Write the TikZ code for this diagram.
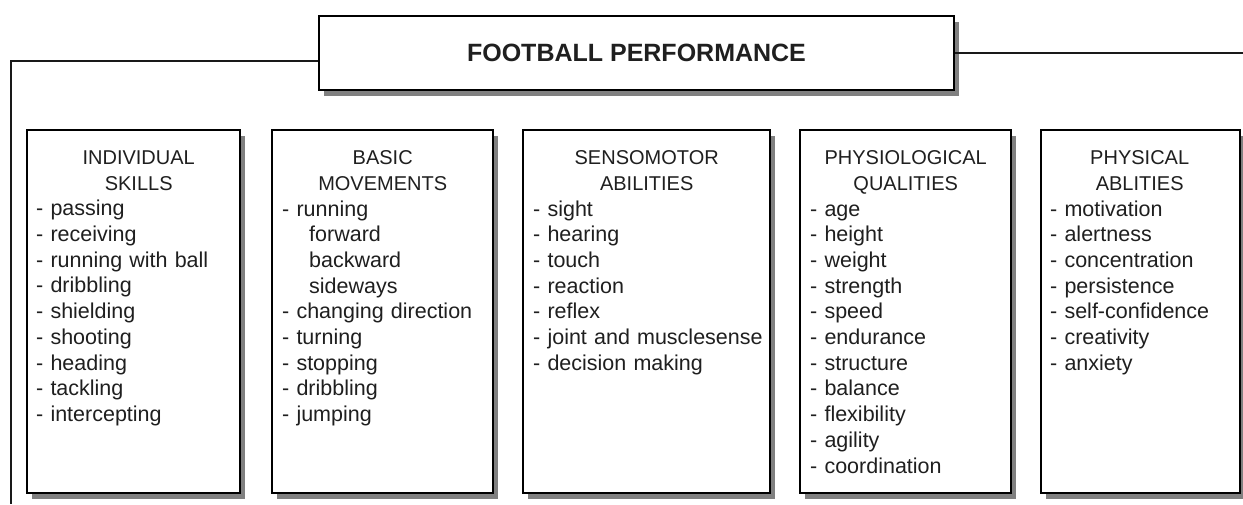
\documentclass[tikz,border=0pt]{standalone}
\usepackage{fontspec}
\setmainfont{Liberation Sans}
\usetikzlibrary{shadows}

\begin{document}
\begin{tikzpicture}[x=1pt, y=-1pt,
  boxshadow/.style={drop shadow={shadow xshift=5pt, shadow yshift=-6pt, fill=black!50, opacity=1}},
  panel/.style={draw=black, line width=2pt, fill=white, boxshadow, inner sep=0pt, anchor=north west},
  titlebox/.style={panel, font=\bfseries\fontsize{25}{29}\selectfont, text=black!88},
  body/.style={anchor=north west, inner sep=0pt, font=\fontsize{21.5}{25.7}\selectfont, text=black!88},
  link/.style={draw=black!90, line width=2pt}
]
\useasboundingbox (0,0) rectangle (1243,504);
\newcommand{\heading}[2]{{\centering\fontsize{20}{25.7}\selectfont #1\\#2\par}}

% top node
\node[titlebox, minimum width=635pt, minimum height=74pt] (top) at (318,15) {FOOTBALL PERFORMANCE};

% free ends of the two branches
\coordinate (lend) at (11,504);
\coordinate (rend) at (1243,52);

\draw[link] ([yshift=-8pt]top.west) -| (lend);
\draw[link] (top.east) -- (top.east -| rend);

% the five category panels
\node[panel, minimum width=213pt, minimum height=363pt] (b1) at (26,129) {};
\node[panel, minimum width=221pt, minimum height=363pt] (b2) at (271,129) {};
\node[panel, minimum width=247pt, minimum height=363pt] (b3) at (522,129) {};
\node[panel, minimum width=211pt, minimum height=363pt] (b4) at (799,129) {};
\node[panel, minimum width=199pt, minimum height=363pt] (b5) at (1040,129) {};

% panel texts
\node[body, text width=193pt] (t1) at ([xshift=10pt, yshift=-21.5pt]b1.north west)
 {\heading{\hspace*{12pt}INDIVIDUAL}{\hspace*{12pt}SKILLS}
  - passing\\
  - receiving\\
  - running with ball\\
  - dribbling\\
  - shielding\\
  - shooting\\
  - heading\\
  - tackling\\
  - intercepting};

\node[body, text width=201pt] (t2) at ([xshift=11pt, yshift=-21.5pt]b2.north west)
 {\heading{BASIC}{MOVEMENTS}
  - running\\
  \hspace*{27pt}forward\\
  \hspace*{27pt}backward\\
  \hspace*{27pt}sideways\\
  - changing direction\\
  - turning\\
  - stopping\\
  - dribbling\\
  - jumping};

\node[body, text width=227pt] (t3) at ([xshift=11pt, yshift=-21.5pt]b3.north west)
 {\heading{SENSOMOTOR}{ABILITIES}
  - sight\\
  - hearing\\
  - touch\\
  - reaction\\
  - reflex\\
  \mbox{- joint and musclesense}\\
  - decision making};

\node[body, text width=191pt] (t4) at ([xshift=11pt, yshift=-21.5pt]b4.north west)
 {\heading{PHYSIOLOGICAL}{QUALITIES}
  - age\\
  - height\\
  - weight\\
  - strength\\
  - speed\\
  - endurance\\
  - structure\\
  - balance\\
  - flexibility\\
  - agility\\
  - coordination};

\node[body, text width=179pt] (t5) at ([xshift=10pt, yshift=-21.5pt]b5.north west)
 {\heading{PHYSICAL}{ABLITIES}
  - motivation\\
  - alertness\\
  - concentration\\
  - persistence\\
  - self-confidence\\
  - creativity\\
  - anxiety};
\end{tikzpicture}
\end{document}
